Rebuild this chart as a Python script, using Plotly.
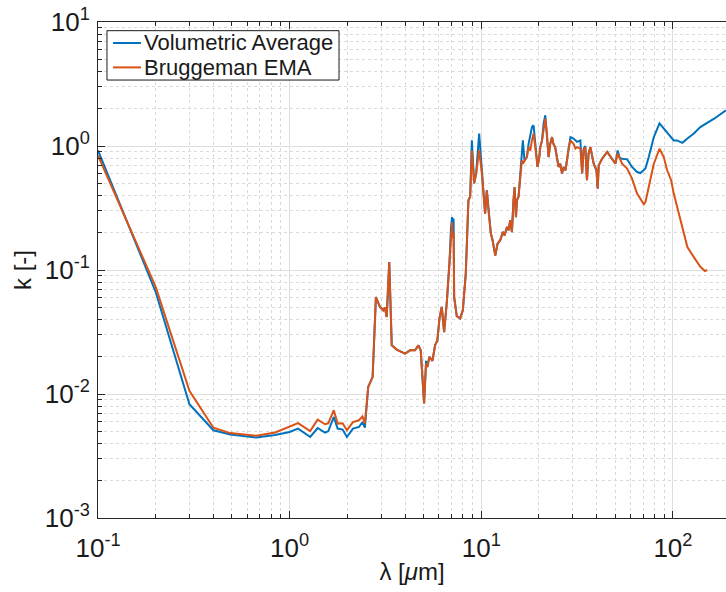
import plotly.graph_objects as go

# ---------------- data ----------------
lam_vol = [0.1, 0.2, 0.3, 0.4, 0.49, 0.67, 0.84, 1.0, 1.107, 1.28, 1.40, 1.53, 1.59, 1.70, 1.78, 1.89, 1.99,
           2.14, 2.30, 2.40, 2.47, 2.57, 2.71, 2.82, 2.96, 3.08, 3.14, 3.21, 3.31, 3.41, 3.62, 4.0, 4.25, 4.51,
           4.70, 4.83, 5.03, 5.15, 5.23, 5.36, 5.56, 5.74, 5.90, 6.05, 6.22, 6.40, 6.61, 6.82, 6.95, 7.04, 7.1,
           7.17, 7.22, 7.45, 7.76, 8.01, 8.30, 8.57, 8.75, 8.93, 9.18, 9.40, 9.75, 10.07, 10.47, 10.69, 10.9,
           11.22, 11.45, 11.83, 12.16, 12.56, 12.97, 13.22, 13.61, 13.87, 14.16, 14.45, 14.73, 14.92, 15.17,
           15.35, 15.65, 15.96, 16.29, 16.48, 16.8, 17.3, 17.65, 18.02, 18.38, 18.74, 19.13, 19.66, 20.08,
           20.32, 20.75, 21.15, 21.58, 22.0, 22.45, 22.9, 23.4, 23.8, 24.3, 24.8, 25.3, 25.8, 26.4, 26.9, 27.5,
           28.0, 28.6, 29.2, 30.3, 31.0, 31.6, 32.9, 33.6, 34.2, 34.9, 35.6, 36.3, 37.1, 38.6, 39.9, 40.5, 41.0,
           42.7, 45.4, 48.2, 50.1, 51.5, 52.8, 54.3, 57.7, 61.2, 65.0, 67.7, 71.9, 74.8, 79.5, 85.1, 89.6,
           93.3, 97.9, 101, 105, 112, 119, 128.6, 139, 164, 189]
k_vol = [0.92, 0.0665, 0.00826, 0.0051, 0.00472, 0.00445, 0.00468, 0.00494, 0.00526, 0.0045, 0.00532, 0.00489,
         0.005, 0.00653, 0.00526, 0.00517, 0.0045, 0.00526, 0.00542, 0.00594, 0.00535, 0.0114, 0.0137, 0.0605,
         0.0503, 0.0473, 0.0498, 0.0418, 0.116, 0.0247, 0.0228, 0.0212, 0.0225, 0.0225, 0.0247, 0.0225, 0.0084,
         0.0185, 0.0165, 0.0199, 0.0185, 0.0247, 0.0271, 0.0405, 0.0504, 0.0316, 0.0552, 0.113, 0.22, 0.267,
         0.2, 0.26, 0.0605, 0.0424, 0.0407, 0.0473, 0.0933, 0.365, 0.39, 1.11, 0.50, 0.6, 1.26, 0.6, 0.285,
         0.44, 0.303, 0.197, 0.174, 0.131, 0.163, 0.174, 0.203, 0.19, 0.222, 0.209, 0.252, 0.202, 0.365, 0.467,
         0.267, 0.365, 0.39, 0.562, 0.766, 1.11, 0.766, 0.815, 1.04, 1.26, 1.42, 1.47, 1.04, 0.678, 0.815,
         0.98, 1.11, 1.52, 1.77, 1.26, 0.815, 1.04, 1.18, 1.04, 0.98, 0.815, 0.678, 0.72, 0.6, 0.678, 0.637,
         0.766, 0.98, 1.18, 1.15, 1.12, 1.08, 1.11, 0.6, 0.95, 1.0, 0.53, 0.87, 0.98, 0.72, 0.637, 0.453, 0.698,
         0.79, 0.895, 0.79, 0.72, 0.92, 0.80, 0.79, 0.78, 0.678, 0.617, 0.605, 0.658, 0.815, 1.18, 1.52, 1.38,
         1.30, 1.18, 1.11, 1.11, 1.06, 1.15, 1.26, 1.42, 1.66, 1.94]

lam_bru = [0.1, 0.2, 0.3, 0.4, 0.49, 0.67, 0.84, 1.0, 1.107, 1.28, 1.40, 1.53, 1.59, 1.70, 1.78, 1.89, 1.99,
           2.14, 2.30, 2.40, 2.47, 2.57, 2.71, 2.82, 2.96, 3.08, 3.14, 3.21, 3.31, 3.41, 3.62, 4.0, 4.25, 4.51,
           4.70, 4.83, 5.03, 5.15, 5.23, 5.36, 5.56, 5.74, 5.90, 6.05, 6.22, 6.40, 6.61, 6.82, 6.95, 7.04, 7.1,
           7.17, 7.22, 7.45, 7.76, 8.01, 8.30, 8.57, 8.75, 8.93, 9.18, 9.40, 9.75, 10.07, 10.47, 10.69, 10.9,
           11.22, 11.45, 11.83, 12.16, 12.56, 12.97, 13.22, 13.61, 13.87, 14.16, 14.45, 14.73, 14.92, 15.17,
           15.35, 15.65, 15.96, 16.29, 16.48, 16.8, 17.3, 17.65, 18.02, 18.38, 18.74, 19.13, 19.66, 20.08,
           20.32, 20.75, 21.15, 21.58, 22.0, 22.45, 22.9, 23.4, 23.8, 24.3, 24.8, 25.3, 25.8, 26.4, 26.9, 27.5,
           28.0, 28.6, 29.2, 30.3, 31.0, 31.6, 32.9, 33.6, 34.2, 34.9, 35.6, 36.3, 37.1, 38.6, 39.9, 40.5, 41.0,
           42.7, 45.4, 48.2, 50.1, 51.5, 52.8, 54.3, 57.7, 61.2, 65.0, 70.5, 71.9, 74.8, 79.5, 85.1, 89.6,
           93.3, 97.9, 101, 105, 112, 119, 128.6, 139, 147, 151]
k_bru = [0.84, 0.073, 0.0106, 0.00535, 0.00484, 0.0046, 0.00489, 0.00542, 0.00583, 0.00503, 0.00621, 0.0057,
         0.0058, 0.0074, 0.00577, 0.0058, 0.0051, 0.00594, 0.00614, 0.0066, 0.00577, 0.0114, 0.0137, 0.0605,
         0.0503, 0.0473, 0.0498, 0.0418, 0.116, 0.0247, 0.0228, 0.0212, 0.0225, 0.0225, 0.0247, 0.0225, 0.0084,
         0.0176, 0.0165, 0.0199, 0.0185, 0.0247, 0.0271, 0.0405, 0.0504, 0.0316, 0.0552, 0.113, 0.2, 0.244,
         0.18, 0.2, 0.0605, 0.0424, 0.0407, 0.0473, 0.0933, 0.365, 0.39, 0.92, 0.50, 0.6, 0.92, 0.6, 0.285,
         0.44, 0.303, 0.197, 0.174, 0.131, 0.163, 0.174, 0.203, 0.19, 0.222, 0.209, 0.252, 0.202, 0.365, 0.467,
         0.267, 0.365, 0.39, 0.562, 0.766, 0.72, 0.766, 0.815, 0.98, 0.92, 1.11, 1.26, 0.98, 0.678, 0.815,
         0.98, 1.11, 1.42, 1.66, 1.26, 0.815, 1.04, 1.18, 1.04, 0.98, 0.815, 0.678, 0.72, 0.6, 0.678, 0.637,
         0.766, 0.98, 1.11, 1.04, 0.953, 0.98, 0.953, 0.6, 0.92, 0.98, 0.53, 0.87, 0.98, 0.72, 0.637, 0.453,
         0.698, 0.79, 0.895, 0.79, 0.72, 0.87, 0.79, 0.72, 0.658, 0.546, 0.413, 0.339, 0.353, 0.467, 0.72, 0.95,
         0.815, 0.637, 0.53, 0.413, 0.324, 0.222, 0.153, 0.127, 0.106, 0.098, 0.1]

series_names = ["Volumetric Average", "Bruggeman EMA"]
series_colors = ["#0072BD", "#D95319"]

x_tickvals = [0.1, 1, 10, 100]
x_ticktext = ["10<sup>-1</sup>", "10<sup>0</sup>", "10<sup>1</sup>", "10<sup>2</sup>"]
y_tickvals = [0.001, 0.01, 0.1, 1, 10]
y_ticktext = ["10<sup>-3</sup>", "10<sup>-2</sup>", "10<sup>-1</sup>", "10<sup>0</sup>", "10<sup>1</sup>"]

x_minor = [m * 10.0 ** e for e in range(-1, 3) for m in range(2, 10)]
y_minor = [m * 10.0 ** e for e in range(-3, 1) for m in range(2, 10)]

FONT = "Liberation Sans, Arial, Helvetica, sans-serif"
AX = "#262626"
TXT = "#1a1a1a"

fig = go.Figure()
fig.add_trace(go.Scatter(x=lam_vol, y=k_vol, mode="lines", name=series_names[0], showlegend=False,
                         line=dict(color=series_colors[0], width=2)))
fig.add_trace(go.Scatter(x=lam_bru, y=k_bru, mode="lines", name=series_names[1], showlegend=False,
                         line=dict(color=series_colors[1], width=2)))

common = dict(
    type="log", showline=True, linecolor=AX, linewidth=1, ticks="inside", ticklen=7,
    tickcolor=AX, tickwidth=1, showgrid=True, gridcolor="#dedede", gridwidth=1,
    zeroline=False, automargin=False,
    tickfont=dict(family=FONT, size=26, color=TXT),
)

fig.update_xaxes(
    **common, range=[-1, 2.277], tickmode="array", tickvals=x_tickvals, ticktext=x_ticktext,
    mirror="ticks", ticklabelstandoff=7,
    minor=dict(tickvals=x_minor, ticks="inside", ticklen=4, tickcolor=AX,
               showgrid=True, gridcolor="#dadada", griddash="dot", gridwidth=1),
    title=dict(text="λ [<i>μ</i>m]", font=dict(family=FONT, size=24, color=TXT), standoff=0),
)
fig.update_yaxes(
    **common, range=[-3, 1], tickmode="array", tickvals=y_tickvals, ticktext=y_ticktext,
    ticklabelstandoff=2,
    minor=dict(tickvals=y_minor, ticks="inside", ticklen=4, tickcolor=AX,
               showgrid=True, gridcolor="#dadada", griddash="dot", gridwidth=1),
    title=dict(text="k [-]", font=dict(family=FONT, size=24, color=TXT), standoff=6),
)

# ---- legend box drawn like MATLAB's (paper coordinates of the plot area) ----
leg_x0, leg_x1, leg_y0, leg_y1 = 0.0143, 0.3838, 0.883, 0.9825
row_y = [0.9577, 0.9085]
shapes = [dict(type="rect", xref="paper", yref="paper", x0=leg_x0, x1=leg_x1, y0=leg_y0, y1=leg_y1,
               line=dict(color=TXT, width=1), fillcolor="white", layer="above")]
annotations = []
for name, color, yy in zip(series_names, series_colors, row_y):
    shapes.append(dict(type="line", xref="paper", yref="paper", x0=0.0239, x1=0.0685, y0=yy, y1=yy,
                       line=dict(color=color, width=2), layer="above"))
    annotations.append(dict(xref="paper", yref="paper", x=0.0695, y=yy, text=name, showarrow=False,
                            xanchor="left", yanchor="middle",
                            font=dict(family=FONT, size=22, color=TXT)))

fig.update_layout(
    width=726, height=592,
    margin=dict(l=98, r=0, t=22, b=74),
    paper_bgcolor="white", plot_bgcolor="white",
    font=dict(family=FONT, color=TXT),
    showlegend=False,
    shapes=shapes, annotations=annotations,
)

fig.write_html("out.html")
